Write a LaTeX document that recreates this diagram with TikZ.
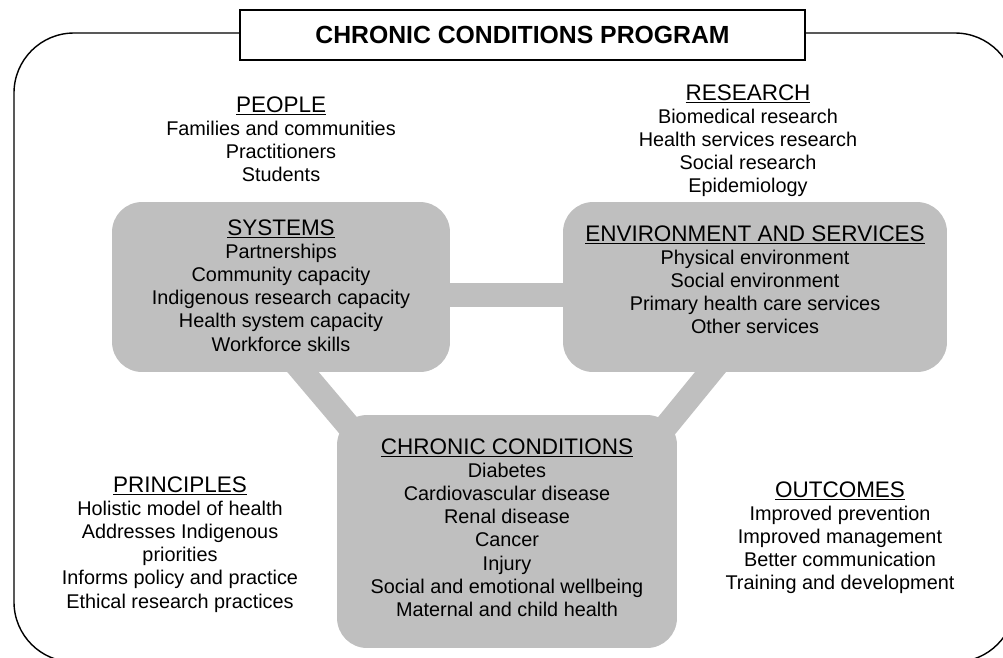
\documentclass[tikz,border=0pt]{standalone}
\usepackage{fontspec}
\setmainfont{Liberation Sans}
\usetikzlibrary{calc}
\pgfdeclarelayer{bg}
\pgfsetlayers{bg,main}
\definecolor{boxgray}{RGB}{191,191,191}
% underlined block heading
\newcommand\hd[1]{\setbox0\hbox{\fontsize{12.8}{13.2}\selectfont #1}\rlap{\rule[-1.9pt]{\wd0}{0.75pt}}\box0}
\tikzset{
  frame/.style={draw=black, line width=0.8pt},
  titlebox/.style={draw=black, line width=0.8pt, fill=white, minimum width=11.3cm,
    minimum height=1cm, inner sep=0pt, font=\fontsize{14.1}{16}\selectfont\bfseries},
  graybox/.style={fill=boxgray, rounded corners=0.6cm, inner sep=0pt},
  link/.style={draw=boxgray, line width=0.48cm},
  txt/.style={align=center, inner sep=0pt, font=\fontsize{11.3}{13.2}\selectfont}
}
\begin{document}
\begin{tikzpicture}[x=0.02cm, y=-0.02cm]
\useasboundingbox (0,0) rectangle (1003,657);
\clip (0,0) rectangle (1003,657);

% outer frame and title
\draw[frame, rounded corners=1.2cm] (14,33) rectangle (1015,662);
\node[titlebox] (title) at (522.5,35) {CHRONIC CONDITIONS PROGRAM};

% the three grey boxes
\node[graybox, minimum width=6.76cm, minimum height=3.4cm] (sys) at (281,287) {};
\node[graybox, minimum width=7.68cm, minimum height=3.4cm] (env) at (755,287) {};
\node[graybox, minimum width=6.8cm, minimum height=4.66cm] (chr) at (507,531.5) {};

% thick grey links behind the boxes
\begin{pgfonlayer}{bg}
\draw[link] ($(sys.center)+(0,7.5)$) -- ($(env.center)+(0,7.5)$);
\draw[link] ($(sys.center)+(-50,0)$) -- ($(chr.center)+(-69,0)$);
\draw[link] ($(env.center)+(25,0)$) -- ($(chr.center)+(73,0)$);
\end{pgfonlayer}

% text blocks
\node[txt, anchor=north] (people) at (281,96)
  {\hd{PEOPLE}\\Families and communities\\Practitioners\\Students};
\node[txt, anchor=north] (research) at (748,84)
  {\hd{RESEARCH}\\Biomedical research\\Health services research\\Social research\\Epidemiology};
\node[txt, anchor=north] (systxt) at (281,219)
  {\hd{SYSTEMS}\\Partnerships\\Community capacity\\Indigenous research capacity\\Health system capacity\\Workforce skills};
\node[txt, anchor=north] (envtxt) at (755,225)
  {\hd{ENVIRONMENT AND SERVICES}\\Physical environment\\Social environment\\Primary health care services\\Other services};
\node[txt, anchor=north] (chrtxt) at (507,438)
  {\hd{CHRONIC CONDITIONS}\\Diabetes\\Cardiovascular disease\\Renal disease\\Cancer\\Injury\\Social and emotional wellbeing\\Maternal and child health};
\node[txt, anchor=north] (principles) at (180,476)
  {\hd{PRINCIPLES}\\Holistic model of health\\Addresses Indigenous\\priorities\\Informs policy and practice\\Ethical research practices};
\node[txt, anchor=north] (outcomes) at (840,481)
  {\hd{OUTCOMES}\\Improved prevention\\Improved management\\Better communication\\Training and development};
\end{tikzpicture}
\end{document}
